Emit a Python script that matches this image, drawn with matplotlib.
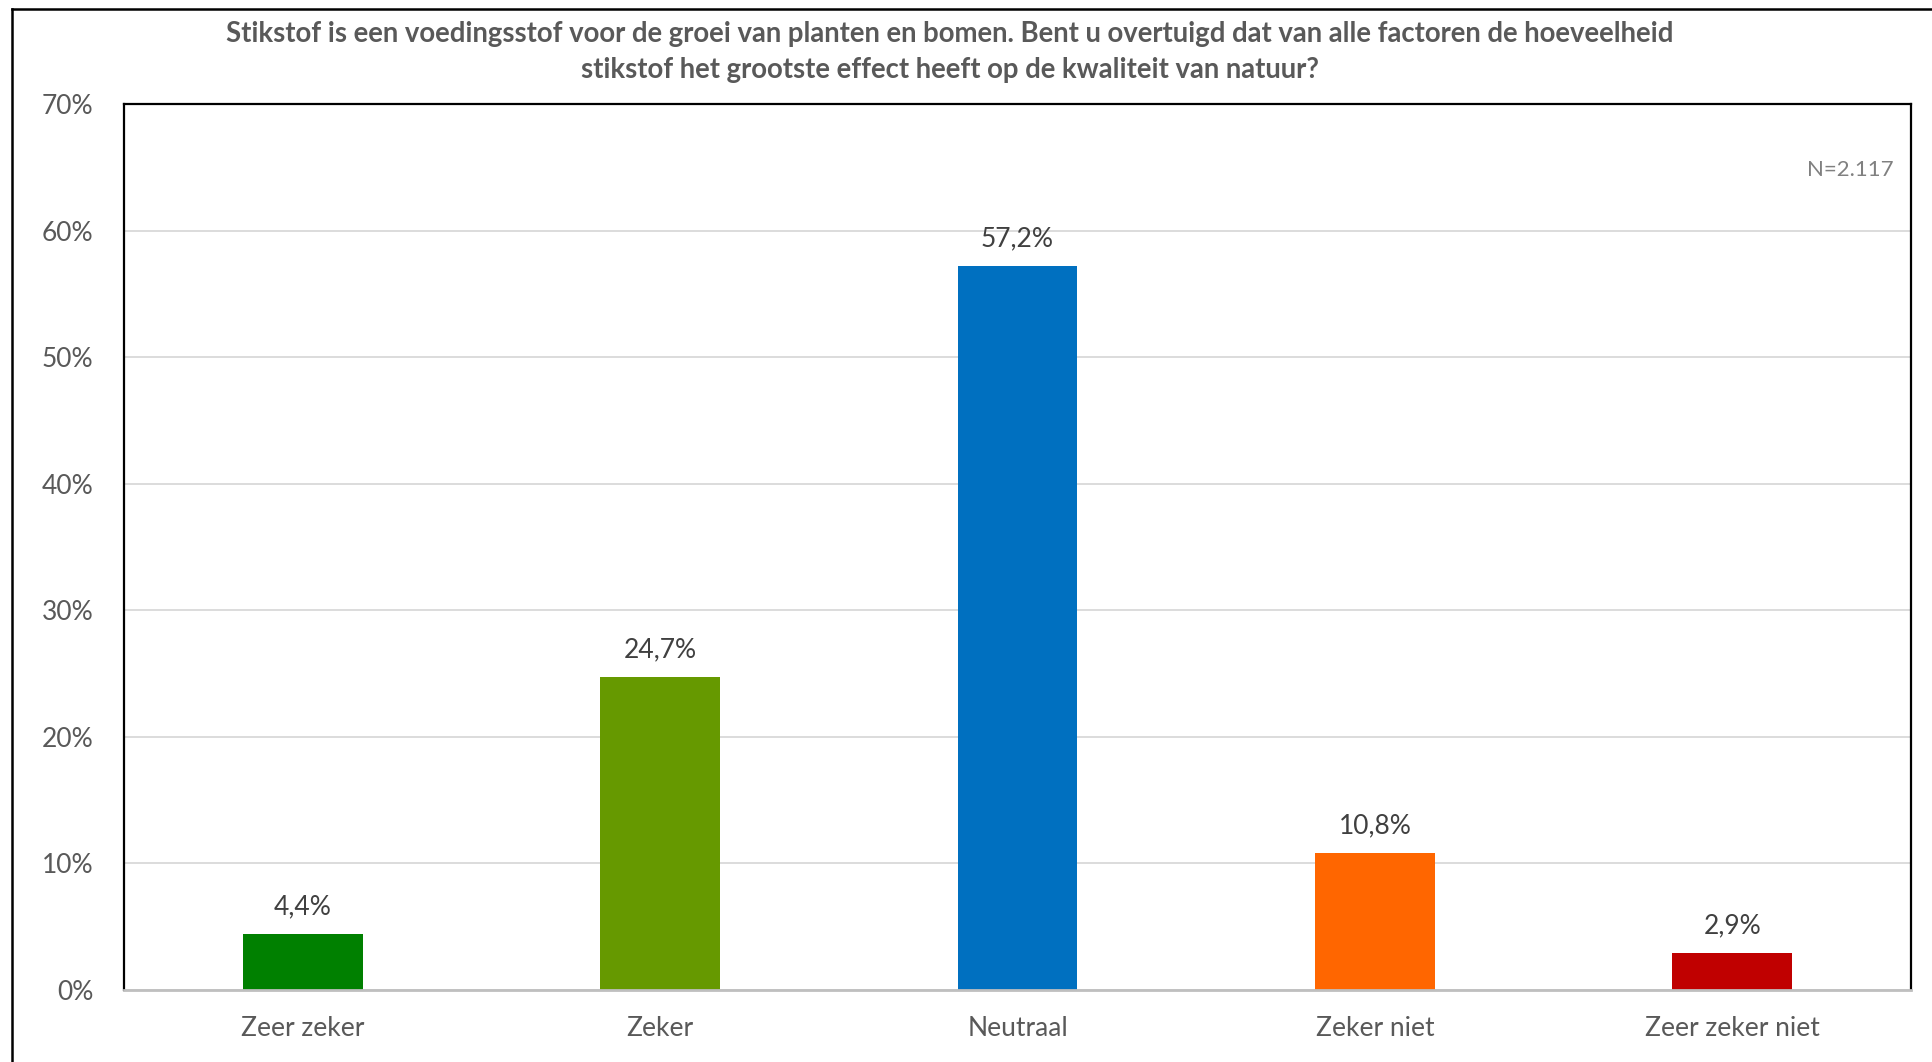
import matplotlib
matplotlib.use("Agg")
import matplotlib.pyplot as plt
from matplotlib.lines import Line2D

# data
categories = ["Zeer zeker", "Zeker", "Neutraal", "Zeker niet", "Zeer zeker niet"]
values = [4.4, 24.7, 57.2, 10.8, 2.9]
colors = ["#008000", "#669900", "#0070C0", "#FF6600", "#C00000"]
title = ("Stikstof is een voedingsstof voor de groei van planten en bomen. Bent u overtuigd dat van alle factoren de hoeveelheid\n"
         "stikstof het grootste effect heeft op de kwaliteit van natuur?")
n_label = "N=2.117"

plt.rcParams['font.family'] = ['Lato', 'DejaVu Sans']

W, H = 1933, 1062
fig = plt.figure(figsize=(W / 100, H / 100), dpi=100)

# plot area in pixels: left 124, right 1911, top 104, bottom 990
ax = fig.add_axes([124 / W, 1 - 990 / H, (1911 - 124) / W, (990 - 104) / H])

x = range(len(categories))
bars = ax.bar(x, values, width=0.335, color=colors, zorder=2)

ax.set_xlim(-0.5, 4.5)
ax.set_ylim(0, 70)
ax.set_yticks(range(0, 71, 10))
ax.set_yticklabels([f"{t}%" for t in range(0, 71, 10)])
ax.set_xticks(list(x))
ax.set_xticklabels(categories)
ax.tick_params(axis='both', length=0, labelsize=19, colors="#595959")
ax.tick_params(axis='y', pad=22)
ax.tick_params(axis='x', pad=19)

ax.yaxis.grid(True, color="#D9D9D9", linewidth=1.3, zorder=0)
ax.set_axisbelow(True)

for s in ['top', 'left', 'right']:
    ax.spines[s].set_color("black")
    ax.spines[s].set_linewidth(1.6)
ax.spines['bottom'].set_color("#BFBFBF")
ax.spines['bottom'].set_linewidth(2)

for b, v in zip(bars, values):
    ax.annotate(f"{v:.1f}%".replace(".", ","), (b.get_x() + b.get_width() / 2, v),
                xytext=(0, 10.5), textcoords="offset points", ha="center", va="bottom",
                fontsize=19, color="#404040")

ax.text(0.99, 0.925, n_label, transform=ax.transAxes, ha="right", va="center",
        fontsize=16, color="#808080")

fig.text(950 / W, 1 - 52 / H, title, ha="center", va="center", fontsize=19.8,
         fontweight="bold", color="#595959", linespacing=1.45)

# outer frame (only top and left visible)
fig.add_artist(Line2D([12 / W, 1], [1 - 9 / H, 1 - 9 / H], color="black", linewidth=1.8, transform=fig.transFigure))
fig.add_artist(Line2D([12 / W, 12 / W], [0, 1 - 9 / H], color="black", linewidth=1.8, transform=fig.transFigure))

fig.savefig("out.png", dpi=100, facecolor="white")
